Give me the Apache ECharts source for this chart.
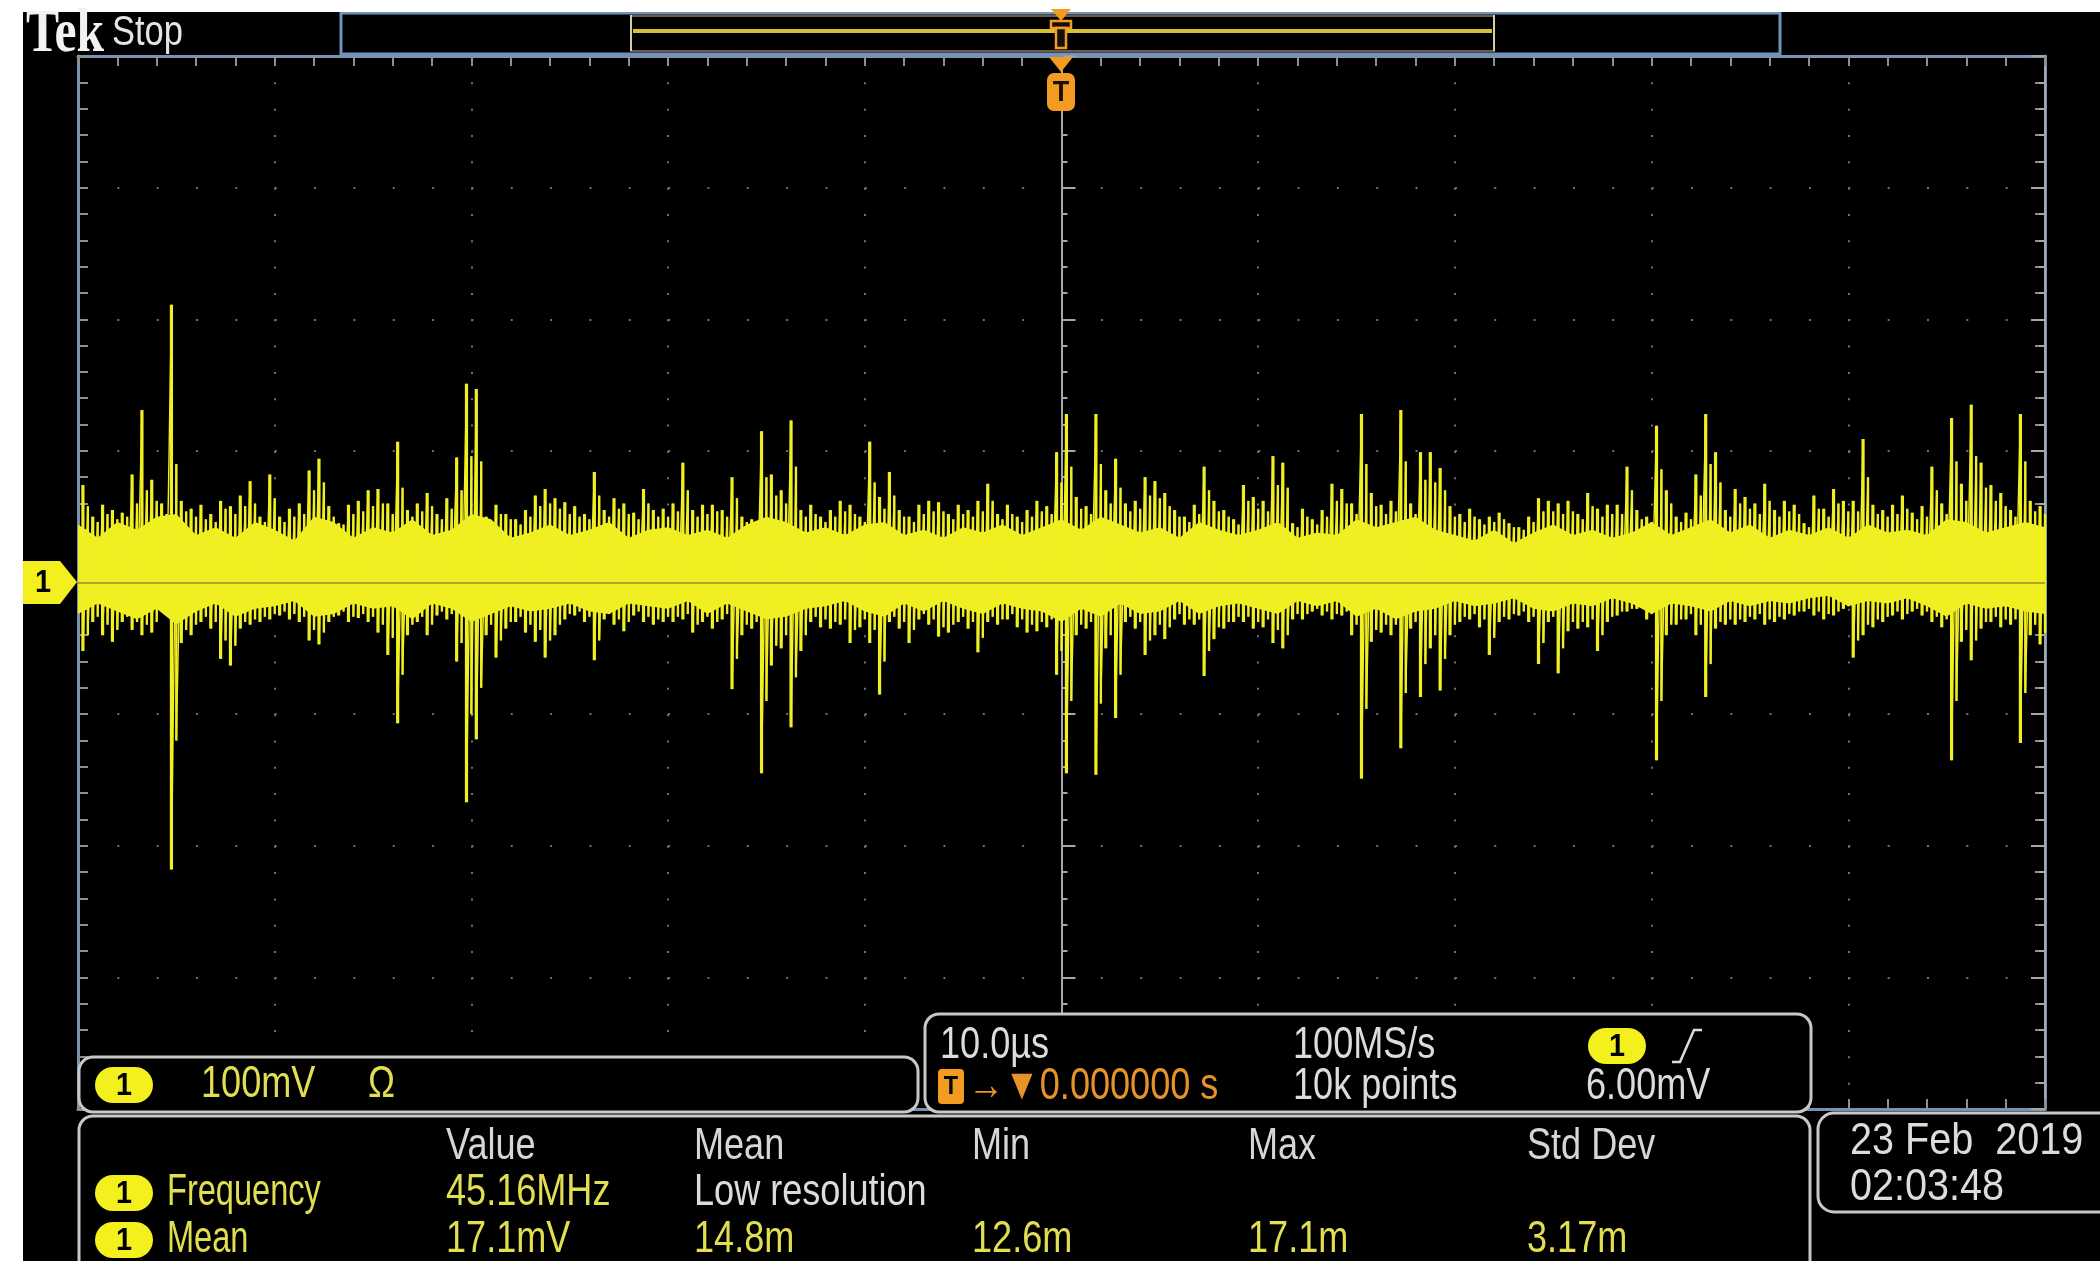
<!DOCTYPE html>
<html>
<head>
<meta charset="utf-8">
<script src="https://cdn.jsdelivr.net/npm/echarts@6/dist/echarts.min.js"></script>
<style>
  html, body { margin: 0; padding: 0; background: #fff; }
  #scope { width: 2100px; height: 1261px; }
</style>
</head>
<body>
<div id="scope"></div>
<script>
// ---------- Channel 1 acquisition (10 µs/div, 100 mV/div, trigger at t = 0) ----------
// Peak-detect columns, 0.5 µs wide, first column centred at -49.75 µs (values in mV)
const COLUMN_START_US = -49.75;
const COLUMN_STEP_US = 0.5;
const peakHigh = [
  74, 50, 59, 55, 53, 82, 131, 78, 60, 211,
  62, 56, 59, 52, 62, 58, 66, 77, 50, 82,
  50, 56, 60, 85, 94, 58, 45, 59, 62, 70,
  71, 60, 107, 55, 60, 68, 52, 64, 95, 151,
  147, 50, 59, 52, 48, 55, 66, 71, 64, 61,
  58, 52, 84, 55, 64, 60, 53, 71, 55, 56,
  60, 91, 55, 59, 59, 55, 80, 50, 48, 115,
  82, 70, 123, 55, 59, 50, 55, 62, 59, 50,
  107, 65, 84, 55, 50, 59, 62, 61, 52, 59,
  55, 62, 75, 52, 59, 50, 55, 62, 58, 99,
  128, 65, 58, 128, 70, 94, 60, 62, 80, 77,
  68, 55, 50, 59, 88, 62, 55, 48, 74, 65,
  62, 96, 91, 45, 56, 48, 55, 75, 71, 60,
  128, 68, 59, 62, 131, 60, 99, 99, 87, 58,
  52, 56, 48, 50, 53, 45, 42, 50, 64, 62,
  60, 62, 52, 68, 56, 59, 59, 88, 55, 50,
  119, 70, 50, 53, 82, 128, 99, 55, 71, 65,
  60, 75, 55, 62, 59, 45, 66, 56, 71, 62,
  62, 109, 59, 55, 59, 66, 53, 58, 88, 60,
  125, 75, 135, 91, 74, 68, 55, 128, 62, 58
];
const peakLow = [
  -52, -30, -40, -45, -30, -36, -40, -38, -20, -218,
  -46, -40, -30, -35, -58, -63, -35, -32, -30, -28,
  -25, -28, -30, -44, -47, -30, -25, -30, -27, -30,
  -38, -55, -107, -40, -30, -40, -25, -28, -60, -167,
  -119, -40, -57, -35, -30, -38, -45, -57, -40, -28,
  -25, -30, -59, -28, -32, -37, -25, -30, -32, -30,
  -30, -28, -38, -30, -35, -28, -81, -40, -35, -145,
  -63, -50, -110, -52, -30, -34, -35, -32, -46, -34,
  -46, -85, -30, -35, -46, -28, -32, -41, -38, -30,
  -35, -53, -30, -32, -28, -34, -38, -37, -34, -70,
  -145, -40, -35, -146, -50, -103, -30, -35, -55, -40,
  -43, -28, -32, -32, -71, -43, -35, -30, -30, -35,
  -34, -46, -50, -28, -28, -22, -25, -28, -25, -40,
  -149, -45, -38, -40, -126, -35, -87, -50, -82, -40,
  -30, -28, -34, -55, -30, -28, -25, -30, -62, -30,
  -69, -37, -35, -34, -52, -30, -25, -22, -20, -28,
  -135, -40, -32, -28, -40, -87, -35, -32, -32, -30,
  -28, -32, -30, -28, -25, -22, -25, -28, -25, -20,
  -57, -40, -34, -30, -25, -28, -22, -25, -30, -34,
  -135, -45, -59, -35, -30, -34, -32, -122, -40, -47
];
// Secondary excursions, half a column later (mV)
const grassHigh = [
  58, 46, 52, 48, 50, 60, 70, 62, 52, 90,
  54, 50, 48, 46, 56, 52, 58, 60, 46, 64,
  46, 50, 52, 70, 76, 50, 44, 52, 54, 58,
  60, 52, 72, 50, 54, 58, 48, 56, 70, 96,
  92, 46, 52, 48, 44, 50, 58, 60, 56, 52,
  50, 48, 66, 50, 56, 52, 48, 60, 50, 50,
  54, 70, 50, 52, 54, 50, 64, 46, 44, 80,
  66, 60, 88, 50, 52, 46, 50, 54, 52, 46,
  76, 56, 66, 50, 46, 52, 54, 54, 48, 52,
  50, 54, 62, 48, 52, 46, 50, 54, 52, 76,
  88, 56, 52, 90, 60, 72, 54, 56, 66, 64,
  58, 50, 46, 52, 70, 54, 50, 44, 62, 56,
  54, 74, 72, 42, 50, 44, 50, 62, 60, 52,
  90, 58, 52, 54, 92, 52, 78, 76, 70, 50,
  46, 50, 44, 46, 48, 42, 40, 46, 54, 54,
  52, 54, 48, 58, 50, 52, 52, 70, 48, 46,
  86, 60, 46, 48, 66, 90, 76, 50, 60, 56,
  52, 62, 50, 54, 52, 42, 56, 50, 60, 54,
  54, 80, 52, 50, 52, 56, 48, 50, 70, 52,
  92, 62, 96, 72, 62, 58, 50, 92, 54, 52
];
const grassLow = [
  -40, -26, -32, -36, -26, -30, -32, -30, -22, -120,
  -36, -32, -26, -30, -44, -48, -30, -28, -26, -24,
  -22, -24, -26, -36, -38, -26, -22, -26, -24, -26,
  -32, -42, -70, -32, -26, -32, -22, -24, -46, -100,
  -80, -32, -44, -30, -26, -32, -36, -44, -32, -24,
  -22, -26, -44, -24, -28, -30, -22, -26, -28, -26,
  -26, -24, -32, -26, -30, -24, -58, -32, -30, -90,
  -48, -40, -72, -40, -26, -28, -30, -28, -36, -28,
  -36, -60, -26, -30, -36, -24, -28, -34, -32, -26,
  -30, -42, -26, -28, -24, -28, -32, -30, -28, -52,
  -90, -32, -30, -92, -40, -70, -26, -30, -44, -32,
  -34, -24, -28, -28, -52, -34, -30, -26, -26, -30,
  -28, -36, -40, -24, -24, -20, -22, -24, -22, -32,
  -96, -36, -32, -32, -84, -30, -62, -40, -58, -32,
  -26, -24, -28, -42, -26, -24, -22, -26, -46, -26,
  -50, -30, -30, -28, -40, -26, -22, -20, -18, -24,
  -90, -32, -28, -24, -32, -62, -30, -28, -28, -26,
  -24, -28, -26, -24, -22, -20, -22, -24, -22, -18,
  -44, -32, -28, -26, -22, -24, -20, -22, -26, -28,
  -90, -36, -44, -30, -26, -28, -28, -84, -32, -38
];

// Dense noise floor edges, sampled every 1 µs from -50 µs to +50 µs (mV)
const BAND_START_US = -50;
const BAND_STEP_US = 1;
const bandUpper = [
  44, 34, 46, 40, 50, 52, 36, 42, 34, 46,
  40, 32, 50, 46, 34, 42, 38, 48, 36, 40,
  52, 48, 34, 38, 44, 36, 40, 46, 34, 40,
  42, 36, 40, 34, 44, 50, 46, 38, 42, 36,
  44, 46, 36, 40, 34, 42, 38, 44, 36, 42,
  48, 40, 50, 44, 38, 42, 34, 46, 40, 36,
  40, 46, 34, 38, 36, 48, 42, 46, 50, 40,
  36, 32, 40, 30, 38, 44, 36, 40, 34, 38,
  46, 36, 42, 48, 38, 44, 34, 40, 36, 42,
  34, 44, 38, 40, 36, 48, 46, 38, 42, 46,
  42
];
const bandLower = [
  -24, -16, -22, -28, -20, -32, -22, -16, -26, -20,
  -18, -14, -26, -24, -16, -20, -18, -28, -16, -20,
  -30, -24, -18, -22, -20, -16, -22, -24, -16, -18,
  -20, -14, -24, -16, -22, -28, -26, -20, -18, -14,
  -22, -26, -16, -22, -14, -20, -24, -16, -20, -22,
  -30, -20, -26, -16, -24, -22, -14, -24, -18, -16,
  -20, -24, -14, -18, -14, -26, -20, -28, -22, -20,
  -14, -18, -16, -12, -20, -22, -16, -18, -12, -16,
  -24, -16, -18, -22, -14, -18, -14, -16, -12, -10,
  -18, -14, -16, -12, -18, -26, -16, -20, -18, -22,
  -24
];

// ---------- Readouts ----------
const channelReadout = ['100mV', 'Ω'];
const timebaseReadout = { scale: '10.0µs', trigPos: '→▼0.000000 s', rate: '100MS/s', record: '10k points', level: '6.00mV' };
const measureHeaders = ['Value', 'Mean', 'Min', 'Max', 'Std Dev'];
const measureRows = [
  { name: 'Frequency', cells: ['45.16MHz', 'Low resolution'] },
  { name: 'Mean', cells: ['17.1mV', '14.8m', '12.6m', '17.1m', '3.17m'] }
];
const dateStamp = ['23 Feb  2019', '02:03:48'];

// ---------- Styling ----------
const TRACE = '#efef22';
const ORANGE = '#f29b20';
const FRAME = '#7893b2';
const TICK = '#8e8e8e';
const DOT = '#707070';
const BOX = '#c8c8c8';
const READ_Y = '#e2de52';
const READ_W = '#dcdcdc';
const SANS = "'Liberation Sans', 'DejaVu Sans', sans-serif";

const G = { left: 78, top: 56, width: 1967, height: 1053 };

function txt(s, x, cy, color, opt) {
  opt = opt || {};
  const size = opt.size || 44;
  const align = opt.align || 'left';
  return {
    type: 'text', x: x, y: cy, z: 140, scaleX: opt.sx == null ? 0.82 : opt.sx,
    silent: true,
    style: {
      text: s, fill: color,
      font: (opt.weight || 'normal') + ' ' + size + 'px ' + (opt.family || SANS),
      align: align, verticalAlign: 'middle',
      textAlign: align, textVerticalAlign: 'middle',
      stroke: opt.stroke || null, lineWidth: opt.lineWidth || 0
    }
  };
}
function box(x, y, w, h, r) {
  return { type: 'rect', z: 110, silent: true, shape: { x: x, y: y, width: w, height: h, r: r },
           style: { fill: '#000', stroke: BOX, lineWidth: 3 } };
}
function badge(cx, cy) {
  return [
    { type: 'rect', z: 115, silent: true, shape: { x: cx - 29, y: cy - 18, width: 58, height: 36, r: 18 }, style: { fill: '#f4f01e' } },
    txt('1', cx, cy + 1, '#000', { size: 32, weight: 'bold', align: 'center', sx: 0.9 })
  ];
}

// ---------- Static screen furniture ----------
const graphics = [];
// white margins of the capture
graphics.push({ type: 'rect', z: 130, silent: true, shape: { x: 0, y: 0, width: 2100, height: 12 }, style: { fill: '#fff' } });
graphics.push({ type: 'rect', z: 130, silent: true, shape: { x: 0, y: 0, width: 23, height: 1261 }, style: { fill: '#fff' } });

// header
graphics.push(txt('Tek', 26, 35, '#f2f2f2', { size: 62, weight: 'bold', family: "'Liberation Serif', 'DejaVu Serif', serif", sx: 0.8 }));
graphics.push(txt('Stop', 112, 33, '#e4e4e4', { size: 42 }));
// record view
graphics.push({ type: 'rect', z: 100, silent: true, shape: { x: 341, y: 13, width: 1439, height: 41 }, style: { fill: '#000', stroke: '#6f93bd', lineWidth: 3 } });
graphics.push({ type: 'rect', z: 101, silent: true, shape: { x: 631, y: 16, width: 863, height: 35 }, style: { fill: 'none', stroke: '#6e5e3c', lineWidth: 2 } });
graphics.push({ type: 'line', z: 102, silent: true, shape: { x1: 631, y1: 15, x2: 631, y2: 51 }, style: { stroke: '#d8cfa0', lineWidth: 2 } });
graphics.push({ type: 'line', z: 102, silent: true, shape: { x1: 1494, y1: 15, x2: 1494, y2: 51 }, style: { stroke: '#d8cfa0', lineWidth: 2 } });
graphics.push({ type: 'line', z: 102, silent: true, shape: { x1: 633, y1: 31, x2: 1492, y2: 31 }, style: { stroke: '#d6c232', lineWidth: 4 } });
// trigger position markers
graphics.push({ type: 'polygon', z: 131, silent: true, shape: { points: [[1051, 9], [1071, 9], [1061, 21]] }, style: { fill: ORANGE } });
graphics.push({ type: 'rect', z: 103, silent: true, shape: { x: 1051, y: 21, width: 20, height: 7 }, style: { fill: '#111', stroke: ORANGE, lineWidth: 2.5 } });
graphics.push({ type: 'rect', z: 103, silent: true, shape: { x: 1056, y: 28, width: 10, height: 20 }, style: { fill: '#111', stroke: ORANGE, lineWidth: 2.5 } });
graphics.push({ type: 'polygon', z: 121, silent: true, shape: { points: [[1049, 57], [1073, 57], [1061, 72]] }, style: { fill: ORANGE } });
graphics.push({ type: 'rect', z: 121, silent: true, shape: { x: 1047, y: 73, width: 28, height: 38, r: 7 }, style: { fill: ORANGE } });
graphics.push(txt('T', 1061, 93, '#1a1000', { size: 30, weight: 'bold', align: 'center', sx: 0.9 }));
// channel 1 ground marker
graphics.push({ type: 'polygon', z: 121, silent: true, shape: { points: [[23, 561], [60, 561], [77, 582], [60, 604], [23, 604]] }, style: { fill: '#f4f01e' } });
graphics.push(txt('1', 43, 583, '#000', { size: 32, weight: 'bold', align: 'center', sx: 0.9 }));

// channel readout box
graphics.push(box(79, 1057, 839, 55, 14));
graphics.push.apply(graphics, badge(124, 1085));
graphics.push(txt(channelReadout[0], 201, 1085, READ_Y));
graphics.push(txt(channelReadout[1], 368, 1085, READ_Y));

// timebase / trigger box
graphics.push(box(925, 1014, 886, 98, 14));
graphics.push(txt(timebaseReadout.scale, 940, 1046, READ_W));
graphics.push({ type: 'rect', z: 115, silent: true, shape: { x: 938, y: 1069, width: 26, height: 35, r: 4 }, style: { fill: ORANGE } });
graphics.push(txt('T', 951, 1087, '#000', { size: 26, weight: 'bold', align: 'center', sx: 0.9 }));
graphics.push(txt(timebaseReadout.trigPos, 968, 1087, '#e8922a'));
graphics.push(txt(timebaseReadout.rate, 1293, 1046, READ_W));
graphics.push(txt(timebaseReadout.record, 1293, 1087, READ_W));
graphics.push.apply(graphics, badge(1617, 1046));
graphics.push({ type: 'polyline', z: 115, silent: true, shape: { points: [[1672, 1062], [1680, 1062], [1694, 1030], [1702, 1030]] }, style: { stroke: READ_W, lineWidth: 2.5, fill: 'none' } });
graphics.push(txt(timebaseReadout.level, 1586, 1087, READ_W));

// measurement box
graphics.push(box(79, 1116, 1731, 220, 14));
const colX = [446, 694, 972, 1248, 1527];
measureHeaders.forEach(function (h, i) { graphics.push(txt(h, colX[i], 1147, '#d6d6d6')); });
measureRows.forEach(function (row, r) {
  const cy = 1193 + r * 47;
  graphics.push.apply(graphics, badge(124, cy));
  graphics.push(txt(row.name, 167, cy, READ_Y, { sx: 0.74 }));
  row.cells.forEach(function (c, i) {
    const isNote = /[a-z]{3,}/i.test(c) && !/Hz|mV/.test(c);
    graphics.push(txt(c, colX[i], cy, isNote ? READ_W : READ_Y));
  });
});

// date box
graphics.push(box(1818, 1113, 330, 99, 16));
graphics.push(txt(dateStamp[0], 1850, 1142, READ_W, { sx: 0.9 }));
graphics.push(txt(dateStamp[1], 1850, 1188, READ_W, { sx: 0.9 }));

// ---------- Axes: graticule frame + centre crosshair ----------
function frameAxis(extra) {
  return Object.assign({
    type: 'value', gridIndex: 0,
    axisLine: { show: true, onZero: false, lineStyle: { color: FRAME, width: 3 } },
    axisTick: { show: true, inside: true, length: 10, lineStyle: { color: TICK, width: 2 } },
    minorTick: { show: true, splitNumber: 5, length: 10, lineStyle: { color: TICK, width: 2 } },
    axisLabel: { show: false },
    splitLine: { show: false }
  }, extra);
}
const centreTick = {
  axisTick: { show: true, inside: true, length: 14, lineStyle: { color: '#a6a6a6', width: 2 } },
  minorTick: { show: true, splitNumber: 5, length: 6, lineStyle: { color: '#a6a6a6', width: 2 } },
  axisLabel: { show: false }, splitLine: { show: false }
};

// trace drawn in acquisition order: main column extremes, then the secondary ones
const traceData = [];
peakHigh.forEach(function (h, i) {
  const t = COLUMN_START_US + i * COLUMN_STEP_US;
  traceData.push([t, h], [t, peakLow[i]], [t + COLUMN_STEP_US / 2, grassHigh[i]], [t + COLUMN_STEP_US / 2, grassLow[i]]);
});

function needle(width) {
  return function (params, api) {
    const t = api.value(0);
    const a = api.coord([t, api.value(1)]);
    const b = api.coord([t, api.value(2)]);
    return { type: 'line', shape: { x1: a[0], y1: a[1], x2: b[0], y2: b[1] }, style: { stroke: TRACE, lineWidth: width } };
  };
}

const option = {
  backgroundColor: '#000',
  animation: false,
  grid: [
    Object.assign({ containLabel: false }, G),
    Object.assign({ containLabel: false }, G)
  ],
  xAxis: [
    frameAxis({ min: -50, max: 50, interval: 10, position: 'bottom',
      splitLine: { show: true, lineStyle: { color: DOT, width: 2, type: [2, 24.325] } } }),
    frameAxis({ min: -50, max: 50, interval: 10, position: 'top' }),
    { type: 'value', gridIndex: 1, min: -50, max: 50, interval: 10,
      axisLine: { show: false }, axisTick: { show: false }, axisLabel: { show: false }, splitLine: { show: false } }
  ],
  yAxis: [
    frameAxis({ min: -400, max: 400, interval: 100, position: 'left',
      splitLine: { show: true, lineStyle: { color: DOT, width: 2, type: [2, 37.34] } } }),
    frameAxis({ min: -400, max: 400, interval: 100, position: 'right' }),
    Object.assign({ type: 'value', gridIndex: 1, min: -400, max: 400, interval: 100, position: 'left',
      axisLine: { show: true, onZero: true, lineStyle: { color: '#a6a6a6', width: 2 } } }, centreTick),
    Object.assign({ type: 'value', gridIndex: 1, min: -400, max: 400, interval: 100, position: 'right',
      axisLine: { show: true, onZero: true, lineStyle: { color: '#a6a6a6', width: 2 } } }, centreTick)
  ],
  graphic: { elements: graphics },
  series: [
    {
      // dense noise floor drawn as a filled band between its edges
      type: 'custom', name: 'band', xAxisIndex: 0, yAxisIndex: 0, z: 3, silent: true,
      data: [[0, 0]],
      renderItem: function (params, api) {
        const pts = [];
        for (let i = 0; i < bandUpper.length; i++) pts.push(api.coord([BAND_START_US + i * BAND_STEP_US, bandUpper[i]]));
        for (let i = bandLower.length - 1; i >= 0; i--) pts.push(api.coord([BAND_START_US + i * BAND_STEP_US, bandLower[i]]));
        return { type: 'polygon', shape: { points: pts }, style: { fill: TRACE } };
      }
    },
    {
      // connecting trace between successive extremes
      type: 'line', name: 'CH1 trace', xAxisIndex: 0, yAxisIndex: 0, z: 4, silent: true,
      showSymbol: false, symbol: 'none',
      lineStyle: { color: TRACE, width: 1.4 },
      data: traceData
    },
    {
      // secondary needles
      type: 'custom', name: 'CH1 minor', xAxisIndex: 0, yAxisIndex: 0, z: 4, silent: true,
      encode: { x: 0, y: [1, 2] },
      data: grassHigh.map(function (h, i) { return [COLUMN_START_US + i * COLUMN_STEP_US + COLUMN_STEP_US / 2, h, grassLow[i]]; }),
      renderItem: needle(2.4)
    },
    {
      // peak-detect needles: one vertical stroke per column from min to max
      type: 'custom', name: 'CH1', xAxisIndex: 0, yAxisIndex: 0, z: 5, silent: true,
      encode: { x: 0, y: [1, 2] },
      data: peakHigh.map(function (h, i) { return [COLUMN_START_US + i * COLUMN_STEP_US, h, peakLow[i]]; }),
      renderItem: needle(3.2),
      markLine: {
        silent: true, symbol: 'none', label: { show: false }, z: 6,
        lineStyle: { color: '#9c8a2c', width: 1.5, type: 'solid' },
        data: [{ yAxis: 0 }]
      }
    }
  ]
};

const chart = echarts.init(document.getElementById('scope'), null, { renderer: 'canvas' });
chart.setOption(option);
</script>
</body>
</html>
